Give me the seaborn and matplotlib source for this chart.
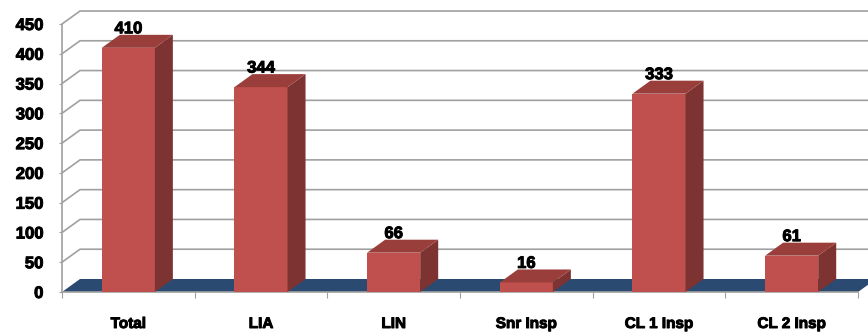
import matplotlib
matplotlib.use("Agg")
import matplotlib.pyplot as plt
from matplotlib.patches import Polygon
import matplotlib.patheffects as pe
import seaborn as sns
import pandas as pd

# Staff counts by grade
categories = ["Total", "LIA", "LIN", "Snr Insp", "CL 1 Insp", "CL 2 Insp"]
counts = [410, 344, 66, 16, 333, 61]
y_ticks = [0, 50, 100, 150, 200, 250, 300, 350, 400, 450]

FRONT = "#C0504D"
SIDE = "#7D3331"
TOP = "#993E3B"
FLOOR = "#2B4A72"
GRID = "#A0A0A0"

sns.set_theme(style="white")
plt.rcParams["font.family"] = ["Liberation Sans", "DejaVu Sans"]
plt.rcParams["font.weight"] = "bold"

heavy = [pe.withStroke(linewidth=0.7, foreground="black")]

df = pd.DataFrame({"grade": categories, "count": counts})

W, H = 868, 336
fig = plt.figure(figsize=(W / 100, H / 100), dpi=100)
ax = fig.add_axes([62 / W, 44 / H, 796 / W, 268 / H])

sns.barplot(data=df, x="grade", y="count", color=FRONT, saturation=1,
            width=0.40, linewidth=0, ax=ax, zorder=3)
bars = list(ax.containers[0])

ax.set_xlim(-0.5, 5.5)
ax.set_ylim(0, 450)

# depth of the 3-D box, in data units
px_x = 796 / 6.0
px_y = 268 / 450.0
ddx = 18 / px_x
ddy = 13 / px_y

# gridlines: short diagonal from the front axis, then along the back wall
for v in y_ticks[1:]:
    ax.plot([-0.5, -0.5 + ddx, 5.5 + 2 * ddx], [v, v + ddy, v + ddy],
            color=GRID, lw=1.2, zorder=0.5, clip_on=False,
            solid_capstyle="butt")

# floor
floor = Polygon([(-0.5, 0), (5.5, 0), (5.5 + ddx, ddy), (-0.5 + ddx, ddy)],
                closed=True, facecolor=FLOOR, edgecolor="none", zorder=1,
                clip_on=False)
ax.add_patch(floor)

for bar, val in zip(bars, counts):
    x0 = bar.get_x()
    w = bar.get_width()
    h = bar.get_height()
    x1 = x0 + w
    side = Polygon([(x1, 0), (x1 + ddx, ddy), (x1 + ddx, h + ddy), (x1, h)],
                   closed=True, facecolor=SIDE, edgecolor="none", zorder=3,
                   clip_on=False)
    top = Polygon([(x0, h), (x1, h), (x1 + ddx, h + ddy), (x0 + ddx, h + ddy)],
                  closed=True, facecolor=TOP, edgecolor="none", zorder=3,
                  clip_on=False)
    ax.add_patch(side)
    ax.add_patch(top)
    ax.text(x0 + w / 2, h + 32, str(val), ha="center", va="center",
            fontsize=12, fontweight="bold", color="black", zorder=5,
            clip_on=False, path_effects=heavy)

for s in ax.spines.values():
    s.set_visible(False)

# front axis lines
ax.plot([-0.5, -0.5], [0, 450], color=GRID, lw=1.2, zorder=2, clip_on=False)
ax.plot([-0.5, 5.5], [0, 0], color=GRID, lw=1.2, zorder=2, clip_on=False)

ax.set_yticks(y_ticks)
ax.set_yticklabels([str(v) for v in y_ticks], fontsize=12, fontweight="bold")
ax.tick_params(axis="y", left=True, length=2.5, width=0.8, color=GRID,
               pad=11, labelcolor="black")

ax.set_xticks(range(len(categories)))
ax.set_xticklabels(categories, fontsize=11, fontweight="bold")
ax.set_xticks([i - 0.5 for i in range(len(categories) + 1)], minor=True)
ax.tick_params(axis="x", which="major", bottom=False, length=0, pad=18,
               labelcolor="black")
ax.tick_params(axis="x", which="minor", bottom=True, length=4, width=0.8,
               color=GRID)

for lbl in ax.get_xticklabels() + ax.get_yticklabels():
    lbl.set_path_effects(heavy)

ax.set_xlabel("")
ax.set_ylabel("")
ax.grid(False)
ax.set_facecolor("none")

fig.savefig("out.png", dpi=100)
